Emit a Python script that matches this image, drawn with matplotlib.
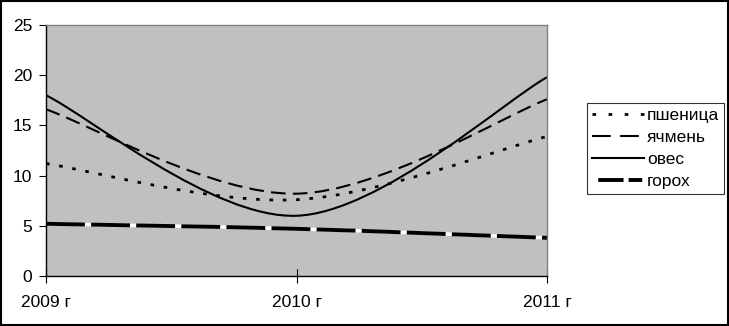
import numpy as np
import matplotlib
matplotlib.use("Agg")
import matplotlib.pyplot as plt
from matplotlib.path import Path
from matplotlib.patches import PathPatch, Rectangle
from matplotlib.lines import Line2D

plt.rcParams['font.family'] = ['Liberation Sans', 'DejaVu Sans']

years = ["2009 г", "2010 г", "2011 г"]
wheat = [11.2, 7.6, 13.9]
barley = [16.6, 8.2, 17.6]
oats = [18.0, 6.0, 19.8]
peas = [5.2, 4.7, 3.8]

DOT = (0, (1.3, 3.5))
DASH = (0, (7, 3.5))
PEA = (0, (10, 1.6))


def smooth_path(xs, ys):
    # Excel-style smoothed line: cubic Bezier segments through the points
    pts = np.column_stack([xs, ys]).astype(float)
    n = len(pts)
    verts = [tuple(pts[0])]
    codes = [Path.MOVETO]
    for i in range(n - 1):
        p0 = pts[max(i - 1, 0)]
        p1 = pts[i]
        p2 = pts[i + 1]
        p3 = pts[min(i + 2, n - 1)]
        c1 = p1 + (p2 - p0) / 6
        c2 = p2 - (p3 - p1) / 6
        verts += [tuple(c1), tuple(c2), tuple(p2)]
        codes += [Path.CURVE4] * 3
    return Path(verts, codes)


def main():
    fig = plt.figure(figsize=(7.29, 3.26), dpi=100)
    ax = fig.add_axes([46 / 729, 50 / 326, 501 / 729, 251 / 326])
    ax.set_facecolor("#c0c0c0")

    x = np.arange(len(years))
    styles = [
        (wheat, dict(linestyle=DOT, linewidth=2.0)),
        (barley, dict(linestyle=DASH, linewidth=1.5)),
        (oats, dict(linestyle="-", linewidth=1.5)),
    ]
    for vals, st in styles:
        ax.add_patch(PathPatch(smooth_path(x, vals), facecolor="none",
                               edgecolor="black", capstyle="butt", **st))
    ax.add_patch(PathPatch(smooth_path(x, peas), facecolor="none",
                           edgecolor="white", linewidth=2.5))
    ax.add_patch(PathPatch(smooth_path(x, peas), facecolor="none",
                           edgecolor="black", linewidth=2.8,
                           linestyle=PEA, capstyle="butt"))

    ax.set_xlim(0, 2)
    ax.set_ylim(0, 25)
    ax.set_yticks(range(0, 26, 5))
    ax.set_xticks(x)
    ax.set_xticklabels(years)
    ax.tick_params(axis="y", direction="out", length=5, width=0.8,
                   labelsize=12.5, pad=5)
    ax.tick_params(axis="x", direction="inout", length=10, width=0.8,
                   labelsize=12.5, pad=9)
    for side in ["top", "right"]:
        ax.spines[side].set_color("#808080")
        ax.spines[side].set_linewidth(1.0)
    for side in ["left", "bottom"]:
        ax.spines[side].set_color("black")
        ax.spines[side].set_linewidth(1.0)

    handles = [
        Line2D([], [], color="black", linestyle=(0, (1.3, 4.5)), linewidth=2.0),
        Line2D([], [], color="black", linestyle=(0, (9, 4.5)), linewidth=1.5),
        Line2D([], [], color="black", linestyle="-", linewidth=1.5),
        Line2D([], [], color="black", linewidth=2.8,
               linestyle=(0, (0.01, 1.6, 6.5, 1.3, 3.5, 10))),
    ]
    leg = fig.legend(handles, ["пшеница", "ячмень", "овес", "горох"],
                     loc="upper left", bbox_to_anchor=(587 / 729, 1 - 103 / 326),
                     fontsize=12.5, frameon=True, fancybox=False,
                     edgecolor="black", handlelength=3.0, handletextpad=0.15,
                     labelspacing=0.38, borderpad=0.3, borderaxespad=0)
    leg.get_frame().set_linewidth(0.8)

    fig.patches.append(Rectangle((0.001, 0.002), 0.997, 0.995,
                                 transform=fig.transFigure, fill=False,
                                 edgecolor="black", linewidth=1.5))
    fig.savefig("out.png", dpi=100)


if __name__ == "__main__":
    main()
